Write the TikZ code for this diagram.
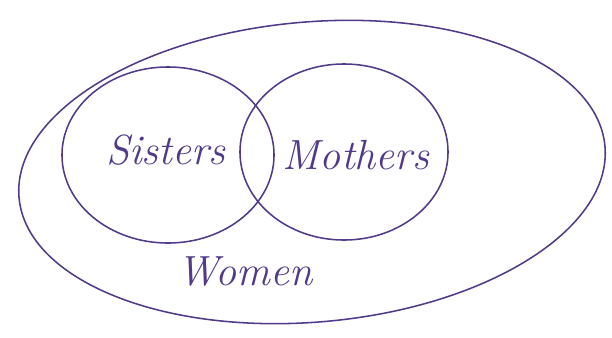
\documentclass[tikz,border=0pt]{standalone}
\usepackage{tikz}
\usetikzlibrary{shapes.geometric,positioning}
\definecolor{ink}{RGB}{82,58,138}

\begin{document}
\begin{tikzpicture}[
    x=0.025cm, y=-0.025cm,
    setshape/.style={ellipse, draw=ink, line width=1.1pt, inner sep=0pt},
    setlabel/.style={text=ink, font=\fontsize{30}{34}\selectfont\itshape}
]
    \useasboundingbox (0,0) rectangle (612,337);
    % outer set
    \node [setshape, minimum width=14.7cm, minimum height=7.5cm, rotate=5] (women) at (312,172) {};
    % inner sets
    \node [setshape, minimum width=5.3cm, minimum height=4.4cm] (sisters) at (168,155) {};
    \node [setshape, minimum width=5.2cm, minimum height=4.4cm] (mothers) at (344,152) {};
    % labels
    \node [setlabel] (lsisters) at (166,150) {Sisters};
    \node [setlabel] (lmothers) at (356,155) {Mothers};
    \node [setlabel] (lwomen) at (245,272) {Women};
\end{tikzpicture}
\end{document}
